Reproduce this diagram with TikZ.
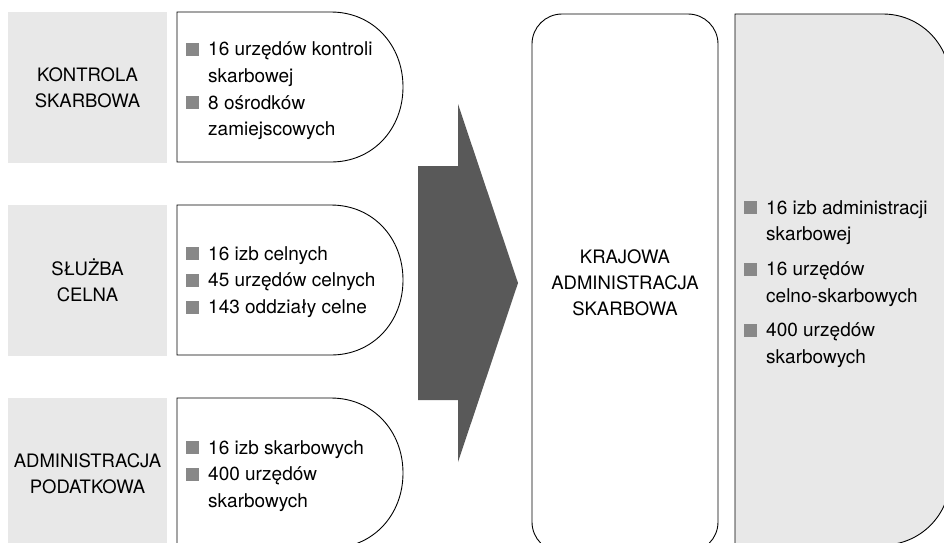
\documentclass[tikz,border=0pt]{standalone}
\usepackage{fontspec}
\setmainfont{TeX Gyre Heros}
\definecolor{panelgray}{HTML}{E8E8E8}
\definecolor{bulgray}{HTML}{888888}
\definecolor{arrowgray}{HTML}{595959}
\newcommand{\bul}{\makebox[22pt][l]{\textcolor{bulgray}{\rule{13pt}{13pt}}}}
\newcommand{\ind}{\hspace*{22pt}}
\tikzset{
  labelbox/.style={fill=panelgray, minimum width=159pt, minimum height=151pt, align=center, inner sep=0pt, font=\fontsize{18.5}{26}\selectfont},
  dbox/.style={draw=black, line width=0.9pt, fill=white},
  listtext/.style={anchor=west, align=left, inner sep=0pt, font=\fontsize{19}{26.7}\selectfont},
}
\begin{document}
\begin{tikzpicture}[x=1pt,y=-1pt]
\useasboundingbox (0,0) rectangle (944,542);
\clip (0,0) rectangle (944,542);
% left grey label boxes
\node[labelbox] (ks) at (87.5,87.5) {KONTROLA\\SKARBOWA};
\node[labelbox] (sc) at (87.5,280.5) {SŁUŻBA\\CELNA};
\node[labelbox] (ap) at (87.5,473.5) {ADMINISTRACJA\\PODATKOWA};
% D-shaped white boxes
\draw[dbox] (177,12) -- (331,12) .. controls (373,12) and (403,45) .. (403,87) .. controls (403,129) and (373,162) .. (331,162) -- (177,162) -- cycle;
\draw[dbox] (177,205) -- (331,205) .. controls (373,205) and (403,238) .. (403,280) .. controls (403,322) and (373,355) .. (331,355) -- (177,355) -- cycle;
\draw[dbox] (177,398) -- (331,398) .. controls (373,398) and (403,431) .. (403,473) .. controls (403,515) and (373,548) .. (331,548) -- (177,548) -- cycle;
\node[listtext] (ksl) at (186,91) {\bul 16 urzędów kontroli\\\ind skarbowej\\\bul 8 ośrodków\\\ind zamiejscowych};
\node[listtext] (scl) at (186,282) {\bul 16 izb celnych\\\bul 45 urzędów celnych\\\bul 143 oddziały celne};
\node[listtext] (apl) at (186,476) {\bul 16 izb skarbowych\\\bul 400 urzędów\\\ind skarbowych};
% big arrow
\coordinate (a1) at (418,166);
\coordinate (a2) at (458,166);
\coordinate (a3) at (458,104);
\coordinate (a4) at (518,283);
\coordinate (a5) at (458,462);
\coordinate (a6) at (458,400);
\coordinate (a7) at (418,400);
\fill[arrowgray] (a1) -- (a2) -- (a3) -- (a4) -- (a5) -- (a6) -- (a7) -- cycle;
% KAS box
\node[draw=black, line width=0.9pt, rounded corners=30pt, minimum width=186pt, minimum height=538pt, align=center, inner sep=0pt, font=\fontsize{18.5}{26}\selectfont] (kas) at (625,283) {KRAJOWA\\ADMINISTRACJA\\SKARBOWA};
% right grey panel
\draw[fill=panelgray, draw=black, line width=0.9pt] (735,14) -- (883,14) arc[start angle=-90, end angle=0, radius=67] -- (950,478) arc[start angle=0, end angle=90, radius=67] -- (735,545) -- cycle;
\node[listtext] (kasl) at (744,284) {\bul 16 izb administracji\\\ind skarbowej\\[8pt]\bul 16 urzędów\\\ind celno-skarbowych\\[8pt]\bul 400 urzędów\\\ind skarbowych};
\end{tikzpicture}
\end{document}
